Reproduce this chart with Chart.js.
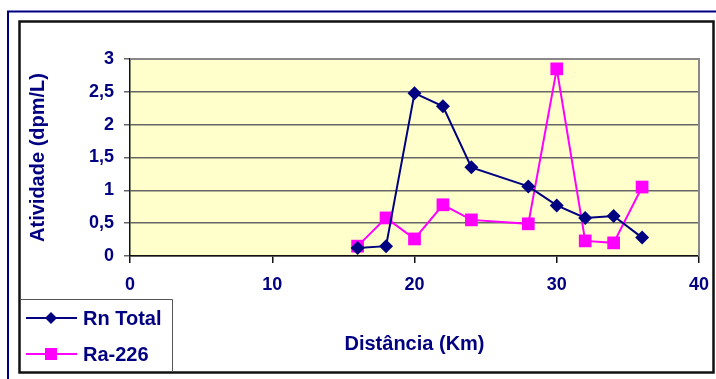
<!DOCTYPE html>
<html lang="pt">
<head>
<meta charset="utf-8">
<style>
  html, body { margin: 0; padding: 0; background: #fff; }
  #wrap { width: 716px; height: 379px; position: relative; }
</style>
</head>
<body>
<div id="wrap"><canvas id="myChart" width="716" height="379"></canvas></div>
<script src="https://cdn.jsdelivr.net/npm/chart.js"></script>
<script>
// distancia (Km)
const distancias = [16, 18, 20, 22, 24, 28, 30, 32, 34, 36];
// atividade (dpm/L)
const rnTotal = [0.12, 0.15, 2.48, 2.28, 1.35, 1.06, 0.77, 0.58, 0.61, 0.28];
const ra226 = [0.15, 0.58, 0.26, 0.78, 0.55, 0.49, 2.85, 0.23, 0.20, 1.05];
const xTicks = [0, 10, 20, 30, 40];
const yTicks = [0, 0.5, 1, 1.5, 2, 2.5, 3];

const navy = '#000080';
const magenta = '#FF00FF';
const fontFam = '"Liberation Sans", Arial, sans-serif';

const toPoints = (ys) => distancias.map((d, i) => ({ x: d, y: ys[i] }));

// moldura, fundo da area e legenda
const framePlugin = {
  id: 'frame',
  beforeDraw(chart) {
    const ctx = chart.ctx;
    const a = chart.chartArea;
    ctx.save();
    ctx.fillStyle = '#fff';
    ctx.fillRect(0, 0, chart.width, chart.height);
    ctx.strokeStyle = navy;
    ctx.lineWidth = 2;
    ctx.beginPath();
    ctx.moveTo(716, 11.5);
    ctx.lineTo(8, 11.5);
    ctx.lineTo(8, 379);
    ctx.stroke();
    ctx.strokeStyle = '#111';
    ctx.lineWidth = 2.5;
    ctx.strokeRect(19.5, 21.5, 694, 351);
    ctx.fillStyle = '#FFFFCC';
    ctx.fillRect(a.left, a.top, a.right - a.left, a.bottom - a.top);
    ctx.restore();
  },
  afterDraw(chart) {
    const ctx = chart.ctx;
    const a = chart.chartArea;
    ctx.save();
    ctx.strokeStyle = '#888';
    ctx.lineWidth = 2;
    ctx.beginPath();
    ctx.moveTo(a.left, a.top);
    ctx.lineTo(a.right, a.top);
    ctx.lineTo(a.right, a.bottom);
    ctx.stroke();
    // caixa da legenda
    ctx.strokeStyle = '#555';
    ctx.lineWidth = 1;
    ctx.beginPath();
    ctx.moveTo(20, 299.5);
    ctx.lineTo(172.5, 299.5);
    ctx.lineTo(172.5, 372);
    ctx.stroke();
    const rows = [318, 354];
    chart.data.datasets.forEach((ds, i) => {
      const y = rows[i];
      ctx.strokeStyle = ds.borderColor;
      ctx.lineWidth = 2;
      ctx.beginPath();
      ctx.moveTo(26, y);
      ctx.lineTo(77, y);
      ctx.stroke();
      ctx.fillStyle = ds.borderColor;
      Chart.helpers.drawPoint(ctx, {
        pointStyle: ds.pointStyle,
        radius: i === 0 ? 6 : 8.5,
        rotation: 0,
        borderWidth: 0
      }, 51, y);
      ctx.fillStyle = navy;
      ctx.font = 'bold 20px ' + fontFam;
      ctx.textBaseline = 'middle';
      ctx.textAlign = 'left';
      ctx.fillText(ds.label, 83, y + 1);
    });
    ctx.restore();
  }
};

const data = {
  datasets: [{
    label: 'Rn Total',
    data: toPoints(rnTotal),
    borderColor: navy,
    backgroundColor: navy,
    borderWidth: 2,
    pointStyle: 'rectRot',
    pointRadius: 7,
    pointHoverRadius: 7,
    pointBorderWidth: 0
  }, {
    label: 'Ra-226',
    data: toPoints(ra226),
    borderColor: magenta,
    backgroundColor: magenta,
    borderWidth: 2,
    pointStyle: 'rect',
    pointRadius: 9,
    pointHoverRadius: 9,
    pointBorderWidth: 0
  }]
};

const config = {
  type: 'line',
  data: data,
  plugins: [framePlugin],
  options: {
    responsive: false,
    animation: false,
    layout: { padding: { top: 59, right: 17, bottom: 0, left: 0 } },
    plugins: { legend: { display: false }, tooltip: { enabled: false } },
    scales: {
      x: {
        type: 'linear',
        min: 0,
        max: 40,
        afterFit(scale) {
          scale.height = 123;
          scale.paddingLeft = 0;
          scale.paddingRight = 0;
        },
        afterBuildTicks(scale) { scale.ticks = xTicks.map(v => ({ value: v })); },
        grid: { drawOnChartArea: false, tickLength: 7, color: '#111', lineWidth: 1.5 },
        border: { color: '#111', width: 1.5 },
        ticks: { color: navy, padding: 11, font: { family: fontFam, size: 18, weight: 'bold' } },
        title: {
          display: true,
          text: 'Distância (Km)',
          color: navy,
          padding: { top: 0, bottom: 23 },
          font: { family: fontFam, size: 20, weight: 'bold' }
        }
      },
      y: {
        min: 0,
        max: 3,
        afterFit(scale) { scale.width = 130; },
        afterBuildTicks(scale) { scale.ticks = yTicks.map(v => ({ value: v })); },
        grid: { color: '#666', lineWidth: 1.5, tickLength: 6 },
        border: { color: '#111', width: 1.5 },
        ticks: {
          color: navy,
          padding: 10,
          font: { family: fontFam, size: 18, weight: 'bold' },
          callback: (v) => String(v).replace('.', ',')
        },
        title: {
          display: true,
          text: 'Atividade (dpm/L)',
          color: navy,
          padding: { top: 26, bottom: 0 },
          font: { family: fontFam, size: 20, weight: 'bold' }
        }
      }
    }
  }
};

const myChart = new Chart(document.getElementById('myChart'), config);
</script>
</body>
</html>
